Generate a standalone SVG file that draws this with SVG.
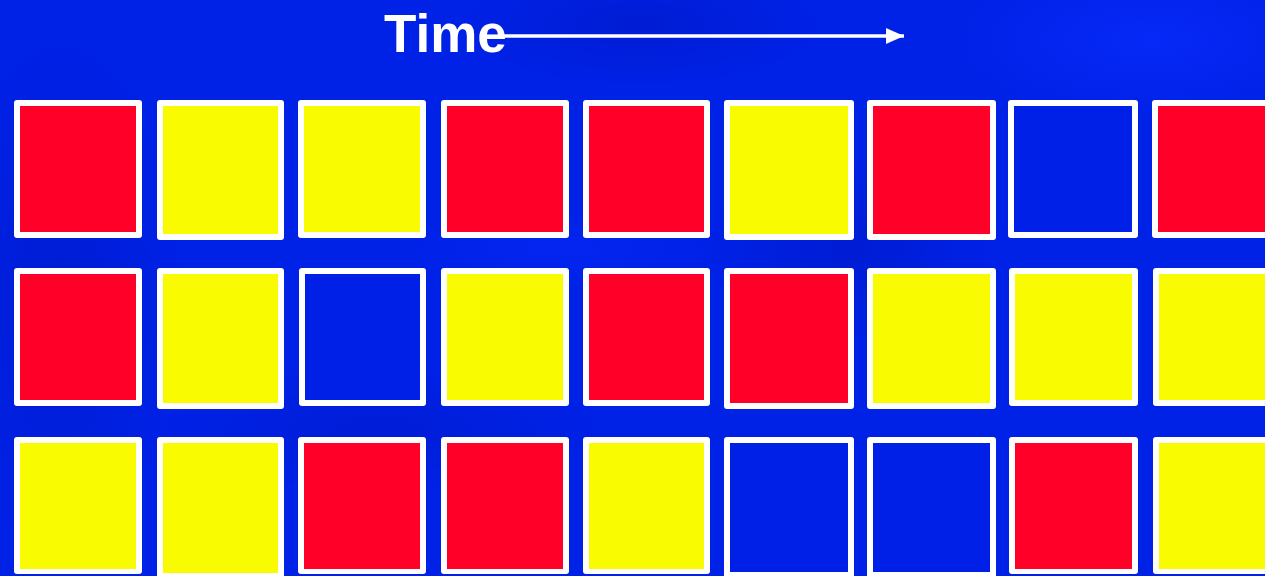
<svg xmlns="http://www.w3.org/2000/svg" width="1265" height="576" viewBox="0 0 1265 576">
  <defs>
    <radialGradient id="d1" cx="0.5" cy="0.5" r="0.5">
      <stop offset="0" stop-color="#0016B8" stop-opacity="0.8"/>
      <stop offset="1" stop-color="#0016B8" stop-opacity="0"/>
    </radialGradient>
    <radialGradient id="l1" cx="0.5" cy="0.5" r="0.5">
      <stop offset="0" stop-color="#0A2CFF" stop-opacity="0.7"/>
      <stop offset="1" stop-color="#0A2CFF" stop-opacity="0"/>
    </radialGradient>
    <marker id="ah" viewBox="0 0 18 16" refX="18" refY="8" markerWidth="18" markerHeight="16" orient="auto" markerUnits="userSpaceOnUse">
      <path d="M0,0 L18,8 L0,16 z" fill="#FFFFFF"/>
    </marker>
    <style>
      .card { fill: #FFFFFF; }
      .r { fill: #FF0029; }
      .y { fill: #F9FC00; }
      .b { fill: #0020E8; }
      .lbl { font-family: "Liberation Sans", Arial, sans-serif; font-weight: bold; font-size: 53px; fill: #FFFFFF; }
    </style>
  </defs>

  <!-- background -->
  <rect x="0" y="0" width="1265" height="576" fill="#0021E6"/>
  <ellipse cx="640" cy="25" rx="180" ry="60" fill="url(#d1)" opacity="0.5"/>
  <ellipse cx="60" cy="300" rx="120" ry="260" fill="url(#d1)" opacity="0.5"/>
  <ellipse cx="850" cy="250" rx="140" ry="90" fill="url(#d1)" opacity="0.5"/>
  <ellipse cx="380" cy="430" rx="220" ry="60" fill="url(#d1)" opacity="0.4"/>
  <ellipse cx="1150" cy="40" rx="200" ry="80" fill="url(#l1)"/>
  <ellipse cx="560" cy="250" rx="160" ry="40" fill="url(#l1)" opacity="0.6"/>

  <!-- title -->
  <g id="title">
    <text class="lbl" x="384" y="52">Time</text>
  </g>

  <!-- connectors -->
  <g id="connectors">
    <line x1="504" y1="36" x2="904" y2="36" stroke="#FFFFFF" stroke-width="3.5" marker-end="url(#ah)"/>
  </g>

  <!-- row 1 -->
  <g id="r1c1"><rect class="card" x="14" y="100" width="128" height="138" rx="3"/><rect class="r" x="20" y="106" width="116" height="126"/></g>
  <g id="r1c2"><rect class="card" x="157" y="100" width="127" height="140" rx="3"/><rect class="y" x="163" y="106" width="115" height="128"/></g>
  <g id="r1c3"><rect class="card" x="298" y="100" width="128" height="138" rx="3"/><rect class="y" x="304" y="106" width="116" height="126"/></g>
  <g id="r1c4"><rect class="card" x="441" y="100" width="128" height="138" rx="3"/><rect class="r" x="447" y="106" width="116" height="126"/></g>
  <g id="r1c5"><rect class="card" x="583" y="100" width="127" height="138" rx="3"/><rect class="r" x="589" y="106" width="115" height="126"/></g>
  <g id="r1c6"><rect class="card" x="724" y="100" width="130" height="140" rx="3"/><rect class="y" x="730" y="106" width="118" height="128"/></g>
  <g id="r1c7"><rect class="card" x="867" y="100" width="129" height="140" rx="3"/><rect class="r" x="873" y="106" width="117" height="128"/></g>
  <g id="r1c8"><rect class="card" x="1008" y="100" width="130" height="138" rx="3"/><rect class="b" x="1014" y="106" width="118" height="126"/></g>
  <g id="r1c9"><rect class="card" x="1152" y="100" width="130" height="138" rx="3"/><rect class="r" x="1158" y="106" width="118" height="126"/></g>

  <!-- row 2 -->
  <g id="r2c1"><rect class="card" x="14" y="268" width="128" height="138" rx="3"/><rect class="r" x="20" y="274" width="116" height="126"/></g>
  <g id="r2c2"><rect class="card" x="157" y="268" width="127" height="141" rx="3"/><rect class="y" x="163" y="274" width="115" height="129"/></g>
  <g id="r2c3"><rect class="card" x="299" y="268" width="127" height="138" rx="3"/><rect class="b" x="305" y="274" width="115" height="126"/></g>
  <g id="r2c4"><rect class="card" x="441" y="268" width="128" height="138" rx="3"/><rect class="y" x="447" y="274" width="116" height="126"/></g>
  <g id="r2c5"><rect class="card" x="583" y="268" width="127" height="138" rx="3"/><rect class="r" x="589" y="274" width="115" height="126"/></g>
  <g id="r2c6"><rect class="card" x="724" y="268" width="130" height="141" rx="3"/><rect class="r" x="730" y="274" width="118" height="129"/></g>
  <g id="r2c7"><rect class="card" x="867" y="268" width="129" height="141" rx="3"/><rect class="y" x="873" y="274" width="117" height="129"/></g>
  <g id="r2c8"><rect class="card" x="1009" y="268" width="129" height="138" rx="3"/><rect class="y" x="1015" y="274" width="117" height="126"/></g>
  <g id="r2c9"><rect class="card" x="1153" y="268" width="130" height="138" rx="3"/><rect class="y" x="1159" y="274" width="118" height="126"/></g>

  <!-- row 3 -->
  <g id="r3c1"><rect class="card" x="14" y="437" width="128" height="137" rx="3"/><rect class="y" x="20" y="443" width="116" height="126"/></g>
  <g id="r3c2"><rect class="card" x="157" y="437" width="127" height="142" rx="3"/><rect class="y" x="163" y="443" width="115" height="130"/></g>
  <g id="r3c3"><rect class="card" x="298" y="437" width="128" height="137" rx="3"/><rect class="r" x="304" y="443" width="116" height="126"/></g>
  <g id="r3c4"><rect class="card" x="441" y="437" width="128" height="137" rx="3"/><rect class="r" x="447" y="443" width="116" height="126"/></g>
  <g id="r3c5"><rect class="card" x="583" y="437" width="127" height="137" rx="3"/><rect class="y" x="589" y="443" width="115" height="126"/></g>
  <g id="r3c6"><rect class="card" x="724" y="437" width="130" height="142" rx="3"/><rect class="b" x="730" y="443" width="118" height="129"/></g>
  <g id="r3c7"><rect class="card" x="867" y="437" width="129" height="142" rx="3"/><rect class="b" x="873" y="443" width="117" height="129"/></g>
  <g id="r3c8"><rect class="card" x="1009" y="437" width="129" height="137" rx="3"/><rect class="r" x="1015" y="443" width="117" height="126"/></g>
  <g id="r3c9"><rect class="card" x="1153" y="437" width="130" height="137" rx="3"/><rect class="y" x="1159" y="443" width="118" height="126"/></g>
</svg>
